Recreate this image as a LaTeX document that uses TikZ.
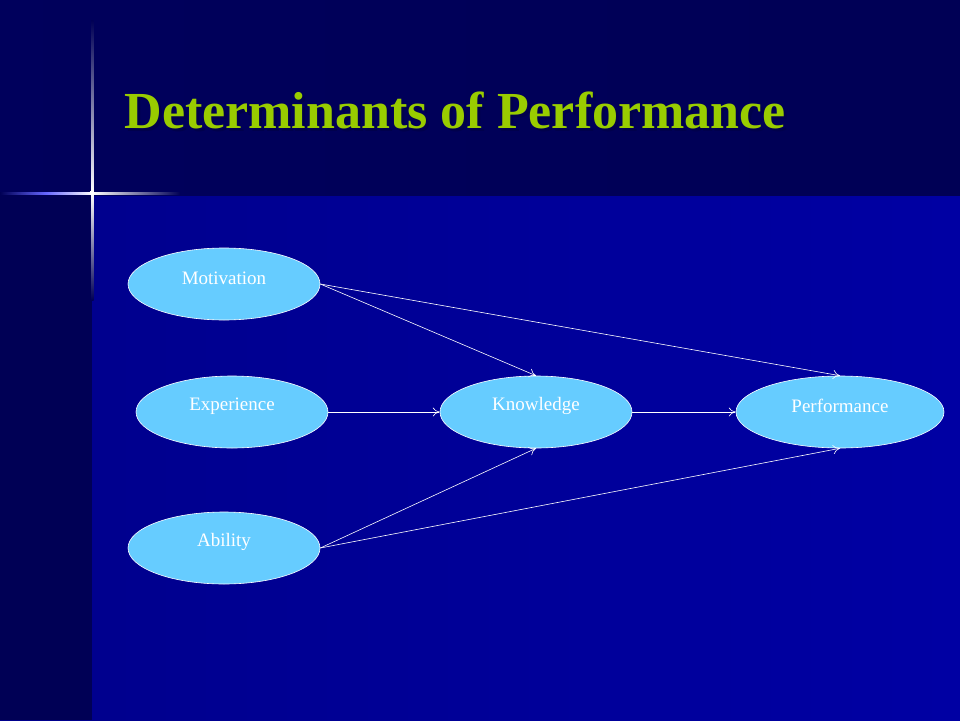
\documentclass[tikz,border=0pt]{standalone}
\usepackage{fontspec}
\setmainfont{Liberation Serif}
\usetikzlibrary{arrows.meta,shapes.geometric}
\definecolor{bgdark}{HTML}{000055}
\definecolor{bgmain}{HTML}{000099}
\definecolor{bgtop}{HTML}{00006A}
\definecolor{ellfill}{HTML}{66CCFF}
\definecolor{titlegreen}{HTML}{99CC00}
\tikzset{
  oval/.style={ellipse, fill=ellfill, draw=white, line width=0.6pt, minimum height=72pt, inner sep=0pt, text=white, font=\fontsize{19}{22}\selectfont},
  lbl/.style={text=white, font=\fontsize{19}{22}\selectfont},
  conn/.style={draw=white, line width=0.6pt, -{To[length=7pt,width=9pt]}}
}
\begin{document}
\begin{tikzpicture}[x=1pt,y=-1pt]
\useasboundingbox (0,0) rectangle (960,720);
\shade[left color=bgmain!80!bgdark, right color=bgmain!90!blue] (0,0) rectangle (960,720);
\shade[left color=bgdark!90!bgmain, right color=bgdark] (0,0) rectangle (960,195);
\fill[bgdark] (0,195) rectangle (92,720);
% star flare
\shade[left color=bgdark, right color=white, middle color=blue!60] (0,192) rectangle (92,194.5);
\shade[left color=white, right color=bgdark] (92,192) rectangle (180,194.5);
\shade[top color=bgdark, bottom color=white] (91,20) rectangle (93.5,193);
\shade[top color=white, bottom color=bgdark] (91,193) rectangle (93.5,300);
\fill[white] (92,193) circle (2.5);
\node[anchor=west, font=\bfseries\fontsize{52}{56}\selectfont, text=black!70!blue] (tshadow) at (124,113) {Determinants of Performance};
\node[anchor=west, font=\bfseries\fontsize{52}{56}\selectfont, text=titlegreen] (title) at (121,110) {Determinants of Performance};
\node[oval, minimum width=192pt] (mot) at (224,284) {};
\node[oval, minimum width=192pt] (exp) at (232,412) {};
\node[oval, minimum width=192pt] (abi) at (224,548) {};
\node[oval, minimum width=192pt] (kno) at (536,412) {};
\node[oval, minimum width=208pt] (per) at (840,412) {};
\node[lbl] (tmot) at (224,278) {Motivation};
\node[lbl] (texp) at (232,406) {Experience};
\node[lbl] (tabi) at (224,542) {Ability};
\node[lbl] (tkno) at (536,406) {Knowledge};
\node[lbl] (tper) at (840,406) {Performance};
\draw[conn] (mot.east) -- (kno.north);
\draw[conn] (mot.east) -- (per.north);
\draw[conn] (exp.east) -- (kno.west);
\draw[conn] (kno.east) -- (per.west);
\draw[conn] (abi.east) -- (kno.south);
\draw[conn] (abi.east) -- (per.south);
\end{tikzpicture}
\end{document}
